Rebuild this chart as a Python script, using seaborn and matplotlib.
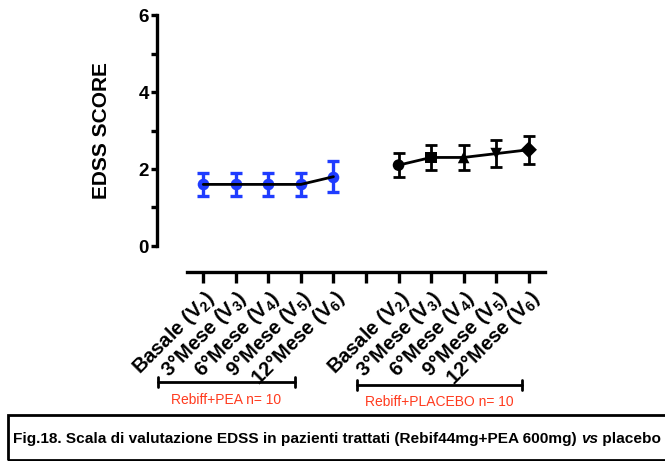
import matplotlib
matplotlib.use('Agg')
import matplotlib.pyplot as plt
import seaborn as sns
import numpy as np
import pandas as pd
from matplotlib.lines import Line2D
from matplotlib.patches import Rectangle

# Dati (media +/- errore)
visite = ['Basale (V$_2$)', '3°Mese (V$_3$)', '6°Mese (V$_4$)', '9°Mese (V$_5$)', '12°Mese (V$_6$)']
pea_media = [1.6, 1.6, 1.6, 1.6, 1.8]
pea_err = [0.3, 0.3, 0.3, 0.3, 0.4]
placebo_media = [2.1, 2.3, 2.3, 2.4, 2.5]
placebo_err = [0.32, 0.33, 0.33, 0.36, 0.36]
marker_placebo = ['o', 's', '^', 'v', 'D']
gruppi = ['Rebiff+PEA n= 10', 'Rebiff+PLACEBO n= 10']

sns.set_style('white')
plt.rcParams['font.family'] = ['Liberation Sans', 'DejaVu Sans']
plt.rcParams['font.weight'] = 'bold'
plt.rcParams['mathtext.default'] = 'regular'
for k in ['text.color', 'axes.labelcolor', 'xtick.color', 'ytick.color', 'axes.edgecolor']:
    plt.rcParams[k] = 'black'

BLU = '#1f3cff'
ROSSO = '#ff3b1f'

fig = plt.figure(figsize=(6.65, 4.61), dpi=100)
ax = fig.add_axes([187 / 665, (461 - 246) / 461, (545 - 187) / 665, (246 - 15) / 461])

pos_pea = np.arange(len(visite))
pos_placebo = np.arange(len(visite)) + len(visite) + 1

df_pea = pd.DataFrame({'x': pos_pea, 'y': pea_media, 'visita': visite})
df_placebo = pd.DataFrame({'x': pos_placebo, 'y': placebo_media, 'visita': visite})

# Barre di errore
ax.errorbar(pos_pea, pea_media, yerr=pea_err, fmt='none', ecolor=BLU,
            elinewidth=2.4, capsize=4, capthick=2.4, zorder=2)
ax.errorbar(pos_placebo, placebo_media, yerr=placebo_err, fmt='none', ecolor='black',
            elinewidth=2, capsize=4, capthick=2, zorder=2)

# Marcatori
sns.scatterplot(data=df_pea, x='x', y='y', color=BLU, marker='o', s=70,
                edgecolor=BLU, linewidth=0, ax=ax, zorder=3, legend=False)
sns.scatterplot(data=df_placebo, x='x', y='y', style='visita', markers=marker_placebo,
                color='black', s=70, edgecolor='black', linewidth=0, ax=ax, zorder=3, legend=False)

# Linee
sns.lineplot(data=df_pea, x='x', y='y', color='black', linewidth=2, ax=ax, zorder=4)
sns.lineplot(data=df_placebo, x='x', y='y', color='black', linewidth=2, ax=ax, zorder=4)

# assi staccati (offset in punti: 30 px e 26 px a 100 dpi)
for s in ['top', 'right']:
    ax.spines[s].set_visible(False)
ax.spines['left'].set_position(('outward', 30 * 0.72))
ax.spines['bottom'].set_position(('outward', 26 * 0.72))
ax.spines['left'].set_linewidth(2.4)
ax.spines['bottom'].set_linewidth(2.4)

ax.set_xlim(-0.5, 10.5)
ax.set_ylim(0, 6)
ax.set_yticks([0, 2, 4, 6])
ax.set_yticks([1, 3, 5], minor=True)
ax.set_xticks(np.arange(11))
ax.tick_params(axis='y', which='major', length=4, width=2.4, pad=2, left=True, labelsize=13.5)
ax.tick_params(axis='y', which='minor', length=4, width=2.4, left=True)
ax.tick_params(axis='x', which='major', length=8, width=2.4, pad=3, bottom=True)

ax.set_xticklabels(visite + [''] + visite)
for t in ax.get_xticklabels():
    t.set_rotation(45)
    t.set_rotation_mode('anchor')
    t.set_ha('right')
    t.set_va('top')
    t.set_fontsize(14.5)
    t.set_fontweight('bold')
for t in ax.get_yticklabels():
    t.set_fontweight('bold')

ax.set_xlabel('')
ax.set_ylabel('EDSS SCORE', fontsize=15, fontweight='bold', labelpad=20)

# Parentesi dei gruppi
def frx(px):
    return px / 665

def fry(py):
    return (461 - py) / 461

for (x0, x1, yl, yt), testo in zip([(158, 295, 382, 400), (357, 522, 385, 402)], gruppi):
    fig.add_artist(Line2D([frx(x0), frx(x1)], [fry(yl), fry(yl)], color='black', lw=2))
    for xx in (x0, x1):
        fig.add_artist(Line2D([frx(xx), frx(xx)], [fry(yl - 5), fry(yl + 5)], color='black', lw=2))
    fig.text(frx((x0 + x1) / 2), fry(yt), testo, color=ROSSO, fontsize=10,
             fontweight='normal', ha='center', va='center')

# Didascalia
fig.add_artist(Rectangle((frx(8), fry(460)), frx(700), fry(415) - fry(460),
                         fill=False, edgecolor='black', lw=2))
t1 = fig.text(frx(13), fry(439), 'Fig.18. Scala di valutazione EDSS in pazienti trattati (Rebif44mg+PEA 600mg) ',
              fontsize=11.1, fontweight='bold', ha='left', va='center')
fig.canvas.draw()
bb = t1.get_window_extent()
t2 = fig.text(bb.x1 / fig.bbox.width, fry(439), 'vs', fontsize=11.1, fontweight='bold',
              style='italic', ha='left', va='center')
bb2 = t2.get_window_extent(renderer=fig.canvas.get_renderer())
fig.text(bb2.x1 / fig.bbox.width, fry(439), ' placebo', fontsize=11.1, fontweight='bold',
         ha='left', va='center')

fig.savefig('out.png', dpi=100)
